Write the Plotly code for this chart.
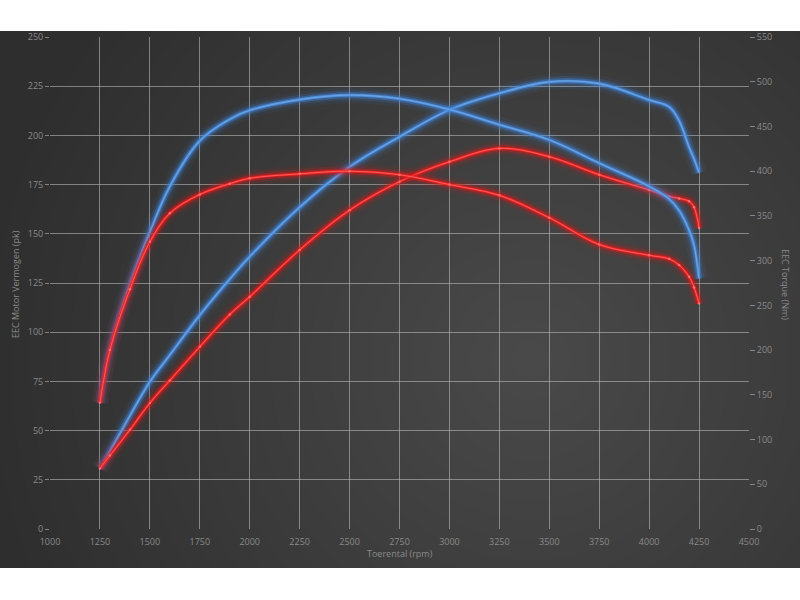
import plotly.graph_objects as go

rpm = [1250, 1300, 1400, 1500, 1600, 1750, 1900, 2000, 2250, 2500, 2750,
       3000, 3250, 3500, 3750, 4000, 4100, 4150, 4200, 4225, 4250]

# tuned (blue)
tuned_power_pk = [30.8, 39.5, 57.5, 74.8, 88.4, 108.7, 127, 138.4, 163.5, 184, 199.3,
                  213, 221.4, 227.2, 226.3, 218, 214.5, 207.5, 194, 188, 181]
tuned_torque_nm = [141, 202, 274, 332, 383, 434, 458, 468, 480, 485, 481,
                   469, 452, 435, 409, 383, 369, 356, 334, 317, 280]
# stock (red)
stock_power_pk = [30.8, 37.3, 50.4, 64, 75.5, 92.6, 109, 118, 141.8, 162, 176.5,
                  186.6, 193.4, 189.2, 180, 172.3, 169, 168, 166.5, 163.5, 153]
stock_torque_nm = [141, 200, 268, 321, 353, 374, 386, 392, 397, 400, 396,
                   385, 373, 348, 318, 306, 302, 295, 282, 270, 252]

x_ticks = [1000, 1250, 1500, 1750, 2000, 2250, 2500, 2750, 3000, 3250, 3500, 3750, 4000, 4250, 4500]
left_ticks = list(range(0, 251, 25))
right_ticks = list(range(0, 551, 50))

PL, PR, PT, PB = 50, 749, 37, 529
PW, PH = PR - PL, PB - PT

def px(x):
    return (x - PL) / PW

def py(y):
    return (PB - y) / PH

fig = go.Figure()

def glow_line(xv, yv, axis, glow, core, center, dots=False):
    sp = dict(shape="spline", smoothing=1.0)
    for w, op in [(16, 0.07), (10, 0.16), (6, 0.4)]:
        fig.add_trace(go.Scatter(x=xv, y=yv, yaxis=axis, mode="lines",
                                 line=dict(color=glow, width=w, **sp),
                                 opacity=op, hoverinfo="skip", showlegend=False))
    fig.add_trace(go.Scatter(x=xv, y=yv, yaxis=axis, mode="lines",
                             line=dict(color=core, width=2.6, **sp),
                             hoverinfo="skip", showlegend=False))
    fig.add_trace(go.Scatter(x=xv, y=yv, yaxis=axis,
                             mode="lines+markers" if dots else "lines",
                             line=dict(color=center, width=0.8, **sp),
                             marker=dict(size=2.5, color=center),
                             opacity=0.8,
                             hoverinfo="skip", showlegend=False))

BLUE_G, BLUE_C, BLUE_M = "#3f86e0", "#4f8fdc", "#7fb0ea"
RED_G, RED_C, RED_M = "#e01818", "#ee2222", "#ff8080"

glow_line(rpm, tuned_torque_nm, "y2", BLUE_G, BLUE_C, BLUE_M)
glow_line(rpm, tuned_power_pk, "y", BLUE_G, BLUE_C, BLUE_M)
glow_line(rpm, stock_torque_nm, "y2", RED_G, RED_C, RED_M, dots=True)
glow_line(rpm, stock_power_pk, "y", RED_G, RED_C, RED_M, dots=True)

shapes = [dict(type="rect", xref="paper", yref="paper", layer="below",
               x0=px(0), x1=px(800), y0=py(568), y1=py(31),
               fillcolor="#2e2e2e", line=dict(width=0))]
cx, cy = 530, 360
for r in range(540, 10, -20):
    shapes.append(dict(type="circle", xref="paper", yref="paper", layer="below",
                       x0=px(cx - r), x1=px(cx + r), y0=py(cy + r), y1=py(cy - r),
                       fillcolor="rgba(255,255,255,0.0075)", line=dict(width=0)))
# re-cover white strips
shapes.append(dict(type="rect", xref="paper", yref="paper", layer="below",
                   x0=px(-10), x1=px(810), y0=py(31), y1=py(-10),
                   fillcolor="white", line=dict(width=0)))
shapes.append(dict(type="rect", xref="paper", yref="paper", layer="below",
                   x0=px(-10), x1=px(810), y0=py(610), y1=py(568),
                   fillcolor="white", line=dict(width=0)))

TXT = "#8a8a8a"
GRID = "rgba(185,185,185,0.6)"
FAM = "Open Sans"
font = dict(family=FAM, size=9, color=TXT)

fig.update_layout(
    width=800, height=600,
    margin=dict(l=PL, r=800 - PR, t=PT, b=600 - PB, pad=0),
    paper_bgcolor="white", plot_bgcolor="rgba(0,0,0,0)",
    font=font, showlegend=False, shapes=shapes,
    xaxis=dict(range=[1000, 4500], tickvals=x_ticks, ticktext=[str(v) for v in x_ticks],
               showgrid=True, gridcolor=GRID, gridwidth=1, zeroline=False,
               showline=False, ticks="outside", ticklen=4, tickcolor="rgba(0,0,0,0)",
               tickfont=font),
    yaxis=dict(range=[0, 250], tickvals=left_ticks, showgrid=True, gridcolor=GRID,
               gridwidth=1, zeroline=False, showline=False, ticks="outside",
               ticklen=4, tickcolor=GRID, tickfont=font),
    yaxis2=dict(range=[0, 550], tickvals=right_ticks, overlaying="y", side="right",
                showgrid=False, zeroline=False, showline=False, ticks="outside",
                ticklen=5, tickcolor=GRID, tickfont=font),
    annotations=[
        dict(text="Toerental (rpm)", xref="paper", yref="paper", x=px(400), y=py(553),
             xanchor="center", yanchor="middle",
             showarrow=False, font=dict(family=FAM, size=9, color=TXT)),
        dict(text="EEC Motor Vermogen (pk)", xref="paper", yref="paper", x=px(15), y=py(284),
             xanchor="center", yanchor="middle",
             showarrow=False, textangle=-90, font=dict(family=FAM, size=9, color=TXT)),
        dict(text="EEC Torque (Nm)", xref="paper", yref="paper", x=px(786), y=py(284),
             xanchor="center", yanchor="middle",
             showarrow=False, textangle=90, font=dict(family=FAM, size=9, color=TXT)),
    ],
)

fig.write_html("out.html", config={"displayModeBar": False},
               post_script="document.body.style.margin='0';document.body.style.overflow='hidden';")
